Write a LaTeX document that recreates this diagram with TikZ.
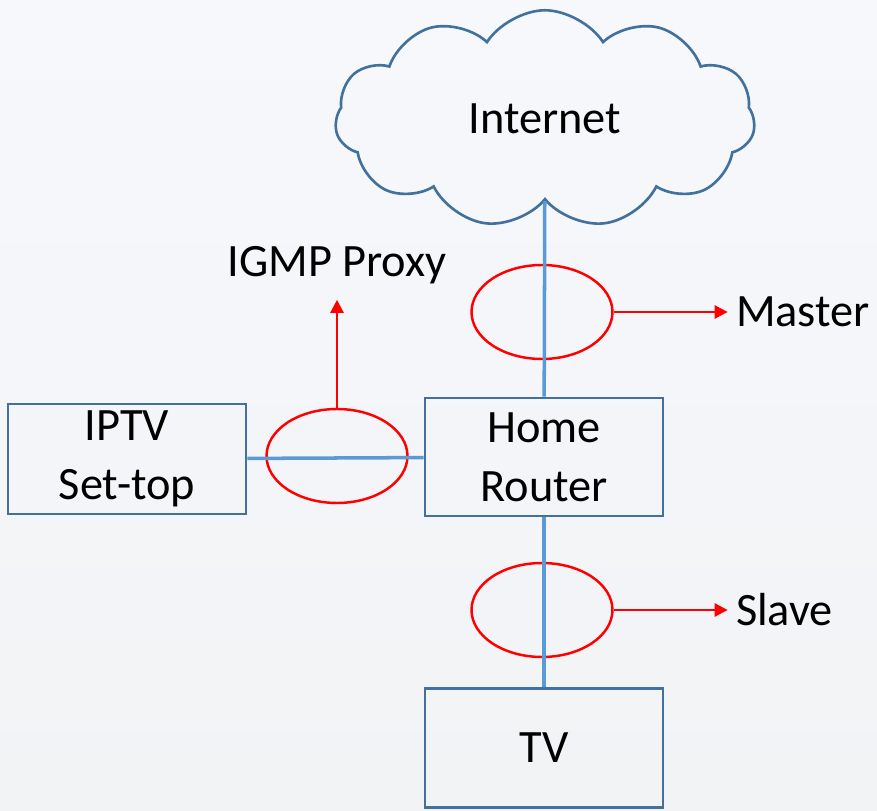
\documentclass[tikz,border=0pt]{standalone}
\usepackage{fontspec}
\setmainfont{Carlito}
\usetikzlibrary{shapes.geometric,shapes.symbols,positioning,arrows.meta}
\definecolor{boxblue}{HTML}{41719C}
\definecolor{linkblue}{HTML}{5B9BD5}
\definecolor{bgtop}{HTML}{F7F8FC}
\definecolor{bgbot}{HTML}{F2F3F5}
\tikzset{device/.style={draw=boxblue,line width=1.5pt,rectangle,minimum width=4.76cm,
minimum height=2.3cm,align=center,font=\fontsize{26.4}{33.5}\selectfont},
link/.style={draw=linkblue,line width=2pt},
snoop/.style={ellipse,draw=red,line width=1.4pt,minimum width=2.82cm,minimum height=1.88cm,inner sep=0pt},
role/.style={draw=red,line width=1.4pt,-{Triangle[length=0.26cm,width=0.26cm]}},
tag/.style={inner sep=0.16cm,font=\fontsize{26.4}{33.5}\selectfont}}

\begin{document}
\begin{tikzpicture}[x=0.02cm,y=-0.02cm]
    % background
    \shade[top color=bgtop,bottom color=bgbot] (0,0) rectangle (877,811);
    \useasboundingbox (0,0) rectangle (877,811);
    % devices
    \node[cloud,cloud puffs=11,cloud puff arc=115,cloud ignores aspect,draw=boxblue,line width=1.5pt,
      minimum width=8.4cm,minimum height=4.35cm,font=\fontsize{26.4}{33.5}\selectfont] (internet) at (545,119) {Internet};
    \node[device,minimum height=2.36cm] (router) at (544,457) {Home\\Router};
    \node[device,minimum height=2.2cm] (iptv) at (127,459) {IPTV\\Set-top};
    \node[device,minimum height=2.38cm] (tv) at (544,748) {TV};
    % snooped links
    \node[snoop] (master) at (542,312) {};
    \node[snoop] (proxy) at (337,456) {};
    \node[snoop] (slave) at (542,610) {};
    % links
    \draw[link] (internet) -- (router);
    \draw[link] (iptv) -- (router);
    \draw[link] (router) -- (tv);
    % roles
    \node[tag,right=2.28cm of master] (master-tag) {Master};
    \node[tag,right=2.28cm of slave] (slave-tag) {Slave};
    \node[tag,above=2.3cm of proxy] (proxy-tag) {IGMP Proxy};
    \draw[role] (master) -- (master-tag);
    \draw[role] (slave) -- (slave-tag);
    \draw[role,shorten >=0.14cm] (proxy) -- (proxy-tag);
\end{tikzpicture}
\end{document}
